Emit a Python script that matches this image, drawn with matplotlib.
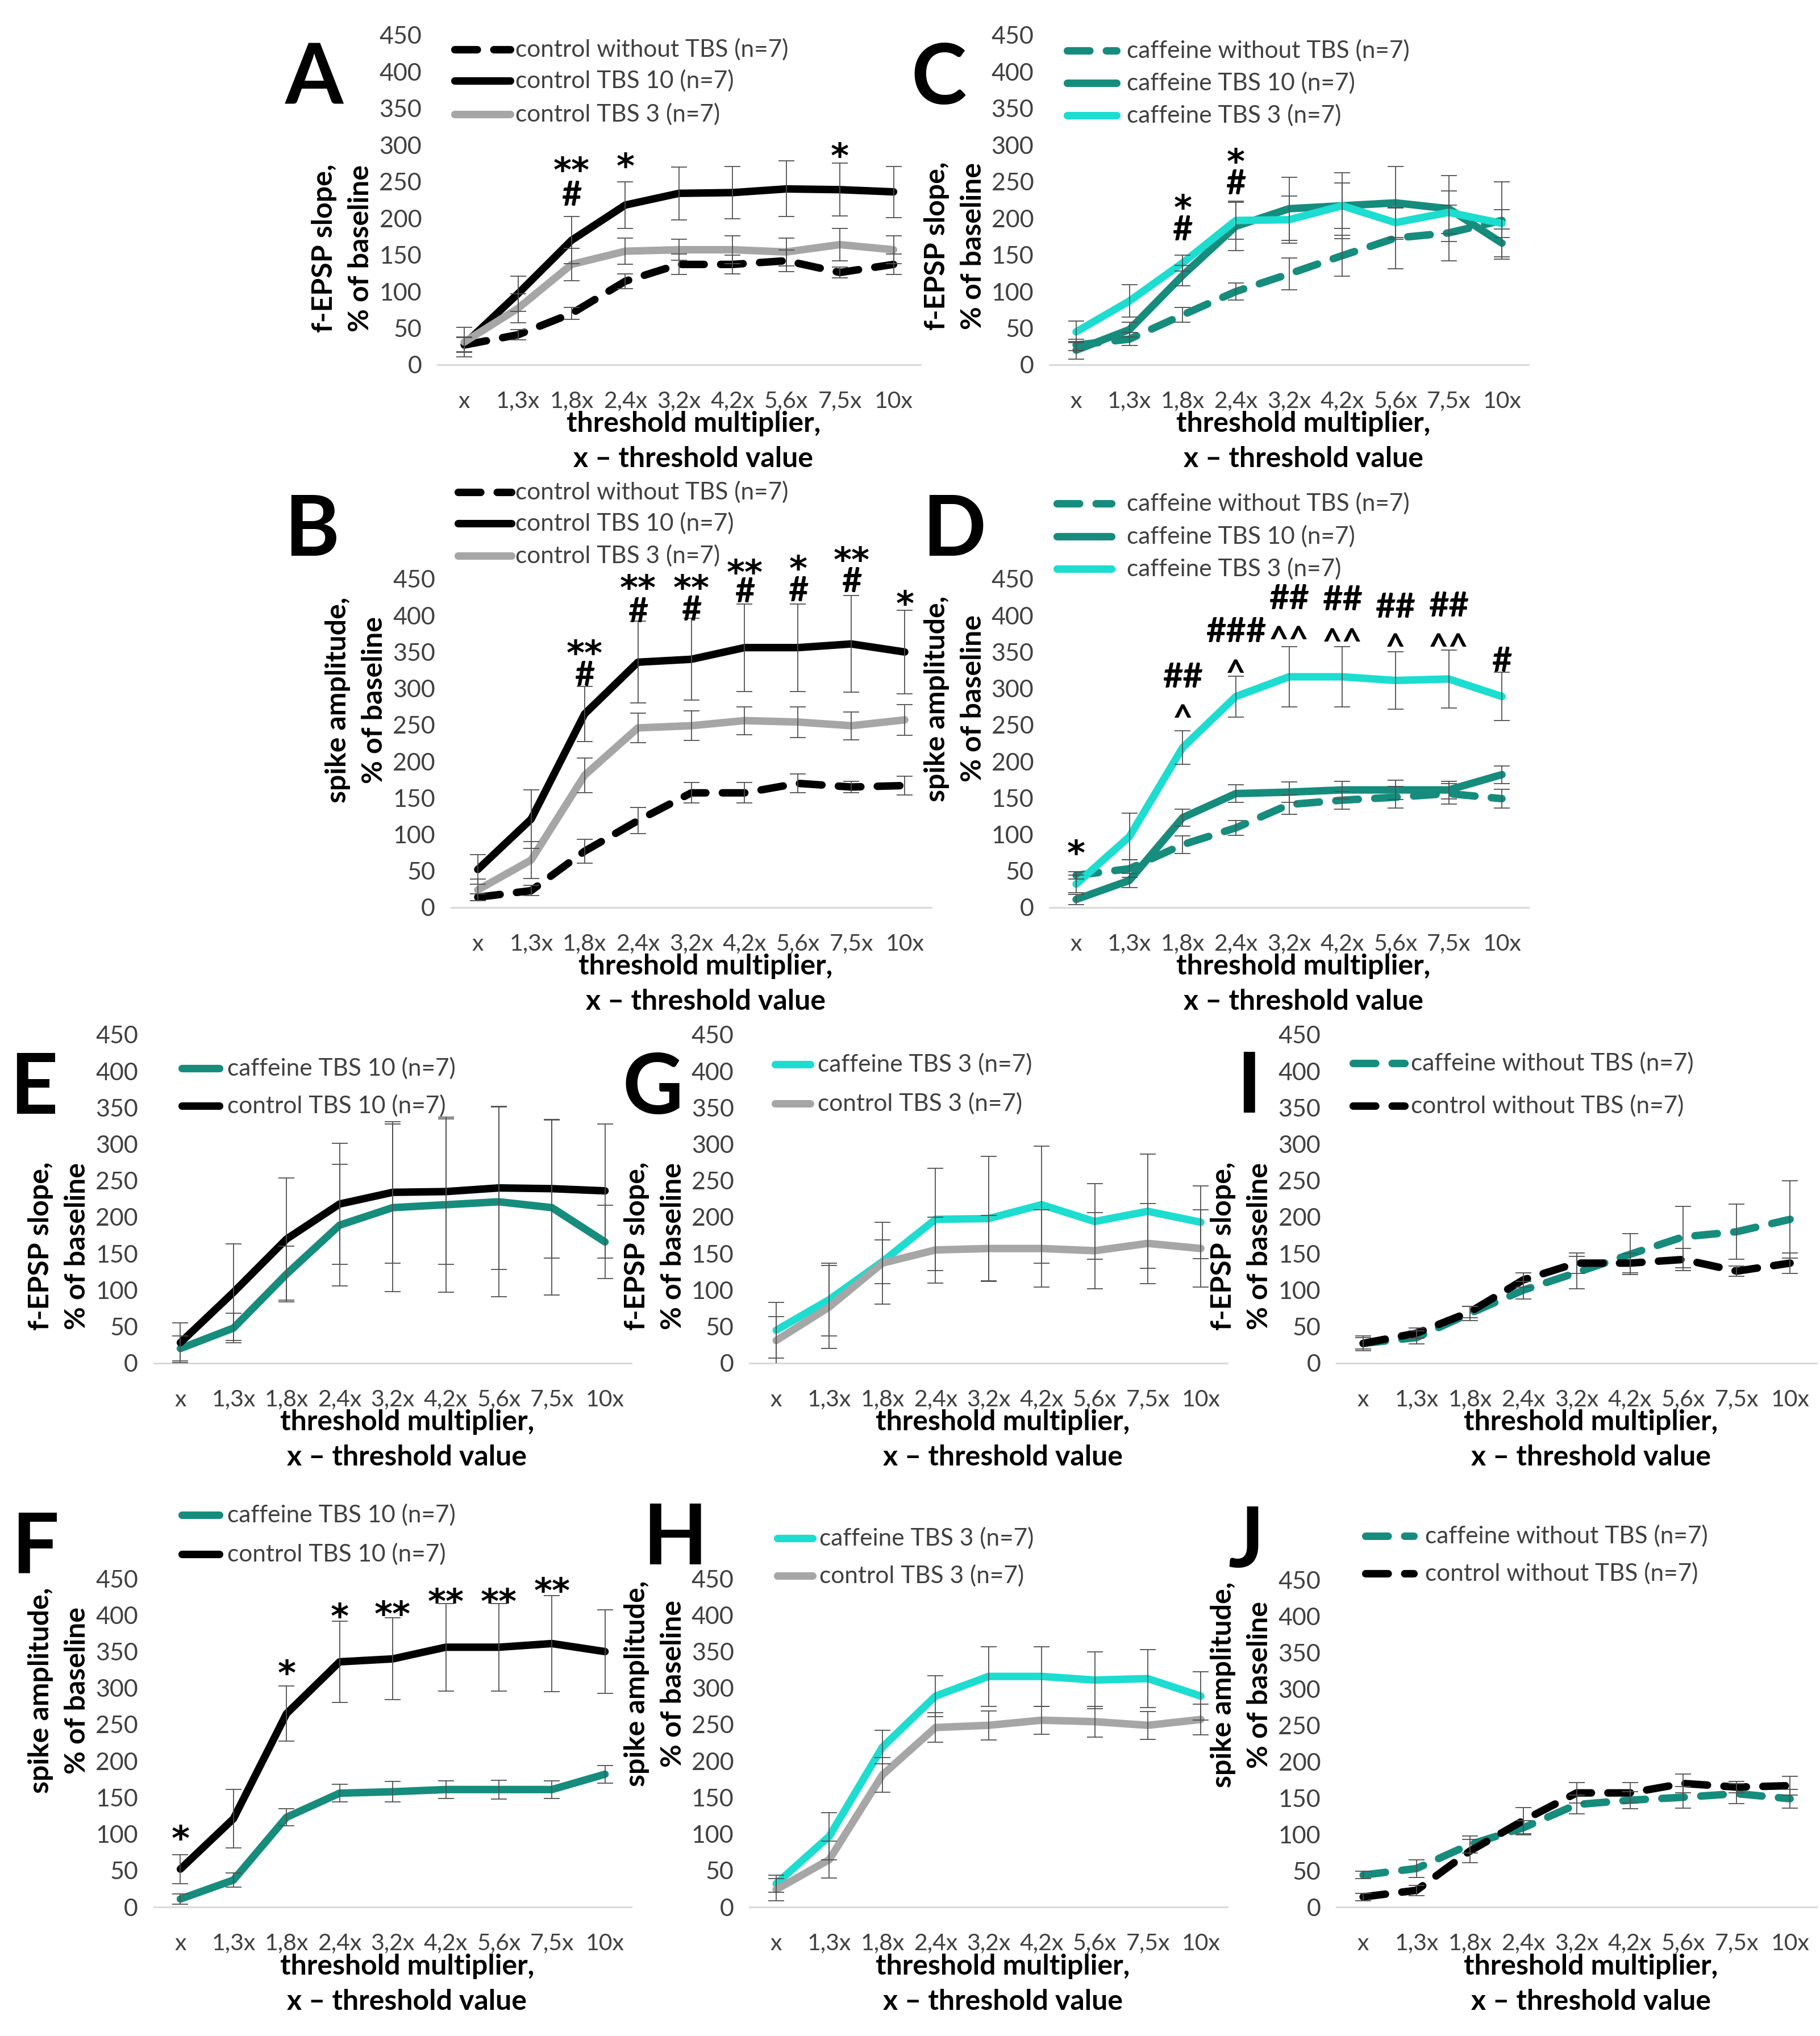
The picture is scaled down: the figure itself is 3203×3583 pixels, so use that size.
import numpy as np
import matplotlib.pyplot as plt
from matplotlib.lines import Line2D

plt.rcParams['font.family'] = ['Lato', 'DejaVu Sans']

W, H = 3203, 3583
S = W / 1402.0   # layout numbers below are read on the 1402 px wide preview

cats = ["x", "1,3x", "1,8x", "2,4x", "3,2x", "4,2x", "5,6x", "7,5x", "10x"]

# f-EPSP slope, % of baseline (mean, SEM, SD)
fepsp_ctrl_none = [27, 41, 70, 114, 137, 137, 142, 126, 137]
fepsp_ctrl_none_sem = [10, 7, 8, 10, 14, 13, 15, 7, 14]
fepsp_ctrl_10 = [28, 97, 170, 218, 234, 235, 240, 239, 236]
fepsp_ctrl_10_sem = [10, 24, 32, 32, 36, 36, 38, 36, 35]
fepsp_ctrl_10_sd = [27, 66, 84, 83, 97, 100, 112, 95, 92]
fepsp_ctrl_3 = [31, 77, 137, 155, 157, 157, 154, 164, 157]
fepsp_ctrl_3_sem = [20, 20, 22, 18, 14, 19, 19, 22, 19]
fepsp_ctrl_3_sd = [33, 57, 56, 45, 45, 53, 52, 55, 53]
fepsp_caf_none = [27, 35, 68, 100, 124, 149, 173, 180, 197]
fepsp_caf_none_sem = [8, 9, 10, 12, 22, 28, 42, 38, 53]
fepsp_caf_10 = [20, 48, 122, 189, 213, 217, 221, 213, 166]
fepsp_caf_10_sem = [12, 10, 14, 33, 43, 45, 50, 45, 19]
fepsp_caf_10_sd = [17, 20, 38, 83, 115, 120, 130, 120, 50]
fepsp_caf_3 = [45, 87, 139, 197, 198, 217, 194, 208, 193]
fepsp_caf_3_sem = [15, 22, 11, 26, 32, 31, 20, 29, 19]
fepsp_caf_3_sd = [38, 50, 30, 70, 85, 80, 52, 78, 50]

# spike amplitude, % of baseline (mean, SEM)
spike_ctrl_none = [14, 23, 77, 119, 157, 157, 170, 165, 167]
spike_ctrl_none_sem = [5, 7, 16, 18, 14, 14, 13, 8, 13]
spike_ctrl_10 = [52, 121, 265, 336, 340, 356, 356, 361, 350]
spike_ctrl_10_sem = [20, 40, 38, 56, 56, 60, 60, 66, 57]
spike_ctrl_3 = [24, 65, 181, 246, 249, 256, 254, 249, 257]
spike_ctrl_3_sem = [15, 25, 24, 20, 20, 19, 21, 19, 21]
spike_caf_none = [44, 53, 86, 109, 141, 147, 151, 156, 149]
spike_caf_none_sem = [5, 12, 12, 10, 13, 12, 15, 14, 13]
spike_caf_10 = [11, 37, 123, 156, 158, 161, 161, 161, 182]
spike_caf_10_sem = [7, 10, 12, 12, 14, 12, 13, 12, 12]
spike_caf_3 = [32, 97, 219, 289, 316, 316, 311, 313, 289]
spike_caf_3_sem = [12, 32, 23, 28, 41, 41, 39, 40, 33]

# significance marks: (category index, height, text)
marks_A = [(2, 274, "**"), (2, 234, "#"), (3, 280, "*"), (7, 294, "*")]
marks_C = [(2, 223, "*"), (2, 187, "#"), (3, 286, "*"), (3, 250, "#")]
marks_B = [(2, 357, "**"), (2, 321, "#"), (3, 447, "**"), (3, 408, "#"),
           (4, 447, "**"), (4, 410, "#"), (5, 468, "**"), (5, 435, "#"),
           (6, 473, "*"), (6, 437, "#"), (7, 485, "**"), (7, 449, "#"),
           (8, 425, "*")]
marks_D = [(0, 83, "*"), (2, 318, "##"), (2, 268, "^"), (3, 381, "###"),
           (3, 330, "^"), (4, 426, "##"), (4, 376, "^^"), (5, 424, "##"),
           (5, 373, "^^"), (6, 414, "##"), (6, 366, "^"), (7, 416, "##"),
           (7, 366, "^^"), (8, 340, "#")]
marks_F = [(0, 103, "*"), (2, 329, "*"), (3, 407, "*"), (4, 410, "**"),
           (5, 427, "**"), (6, 427, "**"), (7, 442, "**")]

lab_ctrl_none = "control without TBS (n=7)"
lab_ctrl_10 = "control TBS 10 (n=7)"
lab_ctrl_3 = "control TBS 3 (n=7)"
lab_caf_none = "caffeine without TBS (n=7)"
lab_caf_10 = "caffeine TBS 10 (n=7)"
lab_caf_3 = "caffeine TBS 3 (n=7)"

BLACK = '#000000'
GREY = '#A6A6A6'
TEAL = '#168C7D'
CYAN = '#1CDDD0'
ERR = '#505050'
TXT = '#404040'
LW = 9.5
DASH = (0, (3.0, 2.2))
XT_FS = 29.5
YT_FS = 31
LEG_FS = 30.5
LAB_FS = 36
MARK_FS = 44

fig = plt.figure(figsize=(W / 100, H / 100), dpi=100)


def pt(px):
    return px * 0.72


def panel(rect, series, ylab, ylab_y, marks=()):
    x0, x1, yt, yb = [v * S for v in rect]
    ax = fig.add_axes([x0 / W, 1 - yb / H, (x1 - x0) / W, (yb - yt) / H])
    xs = np.arange(len(cats))
    for vals, err, color, dashed in series:
        ax.plot(xs, vals, color=color, lw=LW, ls=DASH if dashed else '-',
                solid_capstyle='round', dash_capstyle='round',
                solid_joinstyle='round', dash_joinstyle='round', zorder=2)
    for vals, err, color, dashed in series:
        ax.errorbar(xs, vals, yerr=err, fmt='none', ecolor=ERR,
                    elinewidth=1.3, capsize=10, capthick=1.3, zorder=3)
    ax.set_xlim(-0.5, 8.5)
    ax.set_ylim(0, 450)
    ax.set_yticks(range(0, 451, 50))
    ax.set_xticks(xs)
    ax.set_xticklabels(cats)
    for side in ['left', 'right', 'top']:
        ax.spines[side].set_visible(False)
    ax.spines['bottom'].set_color('#D9D9D9')
    ax.spines['bottom'].set_linewidth(2.2)
    ax.tick_params(length=0, labelcolor=TXT)
    ax.tick_params(axis='x', pad=33, labelsize=XT_FS)
    ax.tick_params(axis='y', pad=20, labelsize=YT_FS)
    ax.patch.set_alpha(0)

    ax.annotate("threshold multiplier,", xy=(0.53, 0), xycoords='axes fraction',
                xytext=(0, -pt(104)), textcoords='offset points',
                ha='center', va='center', fontsize=LAB_FS, fontweight='bold')
    ax.annotate("x \u2013 threshold value", xy=(0.53, 0), xycoords='axes fraction',
                xytext=(0, -pt(166)), textcoords='offset points',
                ha='center', va='center', fontsize=LAB_FS, fontweight='bold')
    for line, off in zip(ylab, (-199, -135)):
        ax.annotate(line, xy=(0, ylab_y), xycoords='axes fraction',
                    xytext=(pt(off), 0), textcoords='offset points', rotation=90,
                    ha='center', va='center', fontsize=LAB_FS, fontweight='bold')

    for i, v, s in marks:
        if s[0] == '*':
            ax.annotate(s, xy=(i, v), xytext=(0, -0.52 * MARK_FS),
                        textcoords='offset points', ha='center', va='baseline',
                        fontsize=MARK_FS, fontweight='bold',
                        family='DejaVu Sans', annotation_clip=False)
        else:
            lift = 0.36 if s[0] == '#' else 0.52
            ax.annotate(s, xy=(i, v), xytext=(0, -lift * MARK_FS),
                        textcoords='offset points', ha='center', va='baseline',
                        fontsize=MARK_FS, fontweight='bold', annotation_clip=False)
    return ax


def legend(items, hx0, hx1, tx, rows):
    for (color, dashed, label), y in zip(items, rows):
        yy = 1 - y * S / H
        fig.add_artist(Line2D([hx0 * S / W, hx1 * S / W], [yy, yy],
                              transform=fig.transFigure, color=color, lw=LW,
                              ls=DASH if dashed else '-',
                              solid_capstyle='round', dash_capstyle='round'))
        fig.text(tx * S / W, yy, label, ha='left', va='center',
                 fontsize=LEG_FS, color=TXT)


def letter(s, x, y):
    fig.text(x * S / W, 1 - y * S / H, s, ha='center', va='baseline',
             fontsize=106, fontweight='bold')


FE = ("f-EPSP slope,", "% of baseline")
SP = ("spike amplitude,", "% of baseline")

# A
panel((337, 709, 27, 281),
      [(fepsp_ctrl_none, fepsp_ctrl_none_sem, BLACK, True),
       (fepsp_ctrl_10, fepsp_ctrl_10_sem, BLACK, False),
       (fepsp_ctrl_3, fepsp_ctrl_3_sem, GREY, False)], FE, 0.354, marks_A)
legend([(BLACK, True, lab_ctrl_none), (BLACK, False, lab_ctrl_10),
        (GREY, False, lab_ctrl_3)], 350, 393, 397, [38, 62, 88])
letter("A", 242, 80)

# C
panel((808.5, 1177.5, 27, 281),
      [(fepsp_caf_none, fepsp_caf_none_sem, TEAL, True),
       (fepsp_caf_10, fepsp_caf_10_sem, TEAL, False),
       (fepsp_caf_3, fepsp_caf_3_sem, CYAN, False)], FE, 0.36, marks_C)
legend([(TEAL, True, lab_caf_none), (TEAL, False, lab_caf_10),
        (CYAN, False, lab_caf_3)], 822, 860, 868, [39, 64, 89])
letter("C", 723, 80)

# B
panel((347.5, 717.5, 446, 699),
      [(spike_ctrl_none, spike_ctrl_none_sem, BLACK, True),
       (spike_ctrl_10, spike_ctrl_10_sem, BLACK, False),
       (spike_ctrl_3, spike_ctrl_3_sem, GREY, False)], SP, 0.632, marks_B)
legend([(BLACK, True, lab_ctrl_none), (BLACK, False, lab_ctrl_10),
        (GREY, False, lab_ctrl_3)], 353, 394, 397, [379, 403, 428])
letter("B", 240, 428)

# D
panel((808.5, 1177.5, 446, 699),
      [(spike_caf_none, spike_caf_none_sem, TEAL, True),
       (spike_caf_10, spike_caf_10_sem, TEAL, False),
       (spike_caf_3, spike_caf_3_sem, CYAN, False)], SP, 0.636, marks_D)
legend([(TEAL, True, lab_caf_none), (TEAL, False, lab_caf_10),
        (CYAN, False, lab_caf_3)], 814, 856, 868, [388, 413, 438])
letter("D", 735, 428)

# E
panel((118.5, 486.5, 797, 1050),
      [(fepsp_caf_10, fepsp_caf_10_sd, TEAL, False),
       (fepsp_ctrl_10, fepsp_ctrl_10_sd, BLACK, False)], FE, 0.356)
legend([(TEAL, False, lab_caf_10), (BLACK, False, lab_ctrl_10)],
       140, 169, 175, [823, 852])
letter("E", 26, 858)

# G
panel((577.5, 945.5, 797, 1050),
      [(fepsp_caf_3, fepsp_caf_3_sd, CYAN, False),
       (fepsp_ctrl_3, fepsp_ctrl_3_sd, GREY, False)], FE, 0.356)
legend([(CYAN, False, lab_caf_3), (GREY, False, lab_ctrl_3)],
       597, 624, 630, [820, 850])
letter("G", 503, 858)

# I
panel((1029.5, 1399.5, 797, 1050),
      [(fepsp_caf_none, fepsp_caf_none_sem, TEAL, True),
       (fepsp_ctrl_none, fepsp_ctrl_none_sem, BLACK, True)], FE, 0.356)
legend([(TEAL, True, lab_caf_none), (BLACK, True, lab_ctrl_none)],
       1042, 1082, 1087, [819, 852])
letter("I", 962, 857)

# F
panel((118.5, 486.5, 1216, 1469),
      [(spike_caf_10, spike_caf_10_sem, TEAL, False),
       (spike_ctrl_10, spike_ctrl_10_sem, BLACK, False)], SP, 0.66, marks_F)
legend([(TEAL, False, lab_caf_10), (BLACK, False, lab_ctrl_10)],
       140, 169, 175, [1167, 1197])
letter("F", 27, 1212)

# H
panel((577.5, 945.5, 1216, 1469),
      [(spike_caf_3, spike_caf_3_sem, CYAN, False),
       (spike_ctrl_3, spike_ctrl_3_sem, GREY, False)], SP, 0.68)
legend([(CYAN, False, lab_caf_3), (GREY, False, lab_ctrl_3)],
       599, 626, 631, [1185, 1214])
letter("H", 520, 1205)

# J
panel((1029.5, 1399.5, 1217, 1469),
      [(spike_caf_none, spike_caf_none_sem, TEAL, True),
       (spike_ctrl_none, spike_ctrl_none_sem, BLACK, True)], SP, 0.68)
legend([(TEAL, True, lab_caf_none), (BLACK, True, lab_ctrl_none)],
       1052, 1089, 1098, [1183, 1212])
letter("J", 960, 1207)

fig.savefig("out.png", dpi=100, facecolor='white')
